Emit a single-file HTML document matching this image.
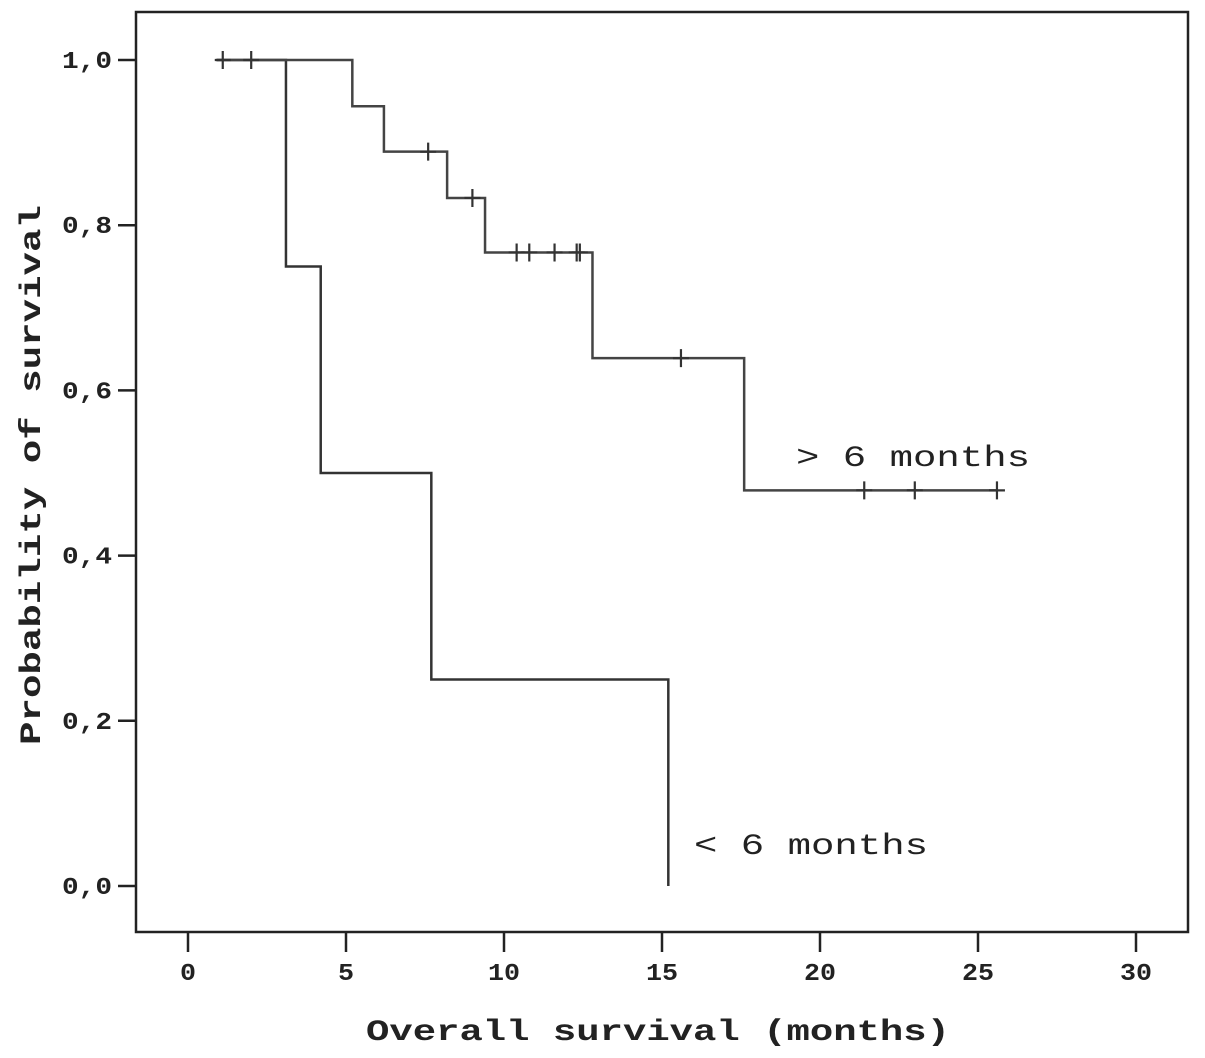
<!DOCTYPE html>
<html><head><meta charset="utf-8"><style>
html,body{margin:0;padding:0;background:#fff;}
svg{display:block;}
</style></head><body>
<svg id="chart" width="1205" height="1058" viewBox="0 0 1205 1058" xmlns="http://www.w3.org/2000/svg"></svg>
<script>
const xTicks = [0,5,10,15,20,25,30];
const yTicks = [0,0.2,0.4,0.6,0.8,1.0];
const yTickLabels = ["0,0","0,2","0,4","0,6","0,8","1,0"];
// > 6 months group
const longTimes = [0.9,5.2,6.2,8.2,9.4,12.8,17.6];
const longSurv  = [1.0,0.944,0.889,0.833,0.767,0.639,0.479];
const longEnd = 25.6;
const longCensor = [1.1,2.0,7.6,9.0,10.4,10.8,11.6,12.3,12.4,15.6,21.4,23.0,25.6];
// < 6 months group
const shortTimes = [0.9,3.1,4.2,7.7,15.2];
const shortSurv  = [1.0,0.75,0.5,0.25,0.0];
const shortEnd = 15.2;
const shortCensor = [];

const NS="http://www.w3.org/2000/svg";
const svg=document.getElementById('chart');
const X=t=>188+t*31.6;
const Y=v=>886-v*826;
const FONT='Liberation Mono, monospace';
function mk(tag,attrs,parent){const e=document.createElementNS(NS,tag);for(const k in attrs)e.setAttribute(k,attrs[k]);(parent||svg).appendChild(e);return e;}

const frame=mk('rect',{x:136,y:12,width:1052,height:920,fill:'none',stroke:'#222','stroke-width':2.5});



xTicks.forEach(t=>{
  const l=mk('line',{x1:X(t),x2:X(t),y1:932,y2:952,stroke:'#222','stroke-width':2.5});
  
  
  const s=String(t);
  const tx=mk('text',{x:X(t),y:980,'text-anchor':'middle','font-family':FONT,'font-weight':'bold','font-size':24,fill:'#222',textLength:s.length*16,lengthAdjust:'spacingAndGlyphs'});
  tx.textContent=s;
  
  
});
yTicks.forEach((v,i)=>{
  const l=mk('line',{x1:118,x2:136,y1:Y(v),y2:Y(v),stroke:'#222','stroke-width':2.5});
  
  
  const tx=mk('text',{x:112,y:Y(v)+8,'text-anchor':'end','font-family':FONT,'font-weight':'bold','font-size':24,fill:'#222',textLength:50,lengthAdjust:'spacingAndGlyphs'});
  tx.textContent=yTickLabels[i];
  
  
});

const xt=mk('text',{x:366,y:1040,'font-family':FONT,'font-weight':'bold','font-size':30,fill:'#222',textLength:584,lengthAdjust:'spacingAndGlyphs'});
xt.textContent='Overall survival (months)';


const yt=mk('text',{x:0,y:0,transform:'translate(40,745) rotate(-90)','font-family':FONT,'font-weight':'bold','font-size':30,fill:'#222',textLength:540,lengthAdjust:'spacingAndGlyphs'});
yt.textContent='Probability of survival';



function stepPath(times,surv,end){
  let d='M'+X(times[0])+','+Y(surv[0]);
  for(let i=1;i<times.length;i++){d+=' H'+X(times[i])+' V'+Y(surv[i]);}
  d+=' H'+X(end);return d;
}
function survAt(times,surv,t){let s=surv[0];for(let i=0;i<times.length;i++){if(times[i]<=t)s=surv[i];}return s;}

const pShort=mk('path',{d:stepPath(shortTimes,shortSurv,shortEnd),fill:'none',stroke:'#333','stroke-width':2.5});


const pLong=mk('path',{d:stepPath(longTimes,longSurv,longEnd),fill:'none',stroke:'#444','stroke-width':2.5});



function censors(list,times,surv,name){
  list.forEach(t=>{
    const cx=X(t),cy=Y(survAt(times,surv,t));
    const g=mk('path',{d:`M${cx-8},${cy} H${cx+8} M${cx},${cy-9} V${cy+9}`,stroke:'#333','stroke-width':2.2,fill:'none'});
    
    
  });
}
censors(longCensor,longTimes,longSurv,'censor-mark-more-6');
censors(shortCensor,shortTimes,shortSurv,'censor-mark-less-6');

const l1=mk('text',{x:796,y:466,'font-family':FONT,'font-size':30,fill:'#222',textLength:234,lengthAdjust:'spacingAndGlyphs'});
l1.textContent='> 6 months';


const l2=mk('text',{x:694,y:854,'font-family':FONT,'font-size':30,fill:'#222',textLength:234,lengthAdjust:'spacingAndGlyphs'});
l2.textContent='< 6 months';


</script>
</body></html>
